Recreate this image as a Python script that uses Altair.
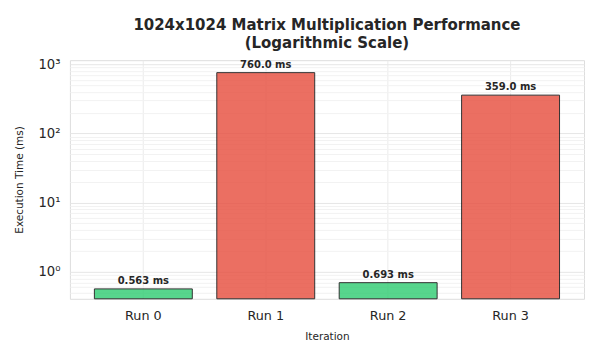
import altair as alt
import pandas as pd

runs = ["Run 0", "Run 1", "Run 2", "Run 3"]
times_ms = [0.563, 760.0, 0.693, 359.0]
bar_colors = ["#2ecc71", "#e74c3c", "#2ecc71", "#e74c3c"]
labels = ["0.563 ms", "760.0 ms", "0.693 ms", "359.0 ms"]

y_ticks = [0.5, 0.6, 0.7, 0.8, 0.9, 1, 2, 3, 4, 5, 6, 7, 8, 9,
           10, 20, 30, 40, 50, 60, 70, 80, 90,
           100, 200, 300, 400, 500, 600, 700, 800, 900, 1000]
y_domain = [0.405, 1150]

df = pd.DataFrame({"run": runs, "time": times_ms, "color": bar_colors, "label": labels,
                   "base": [y_domain[0]] * len(runs)})

FONT = "DejaVu Sans"
W, H = 515, 239

major_test = "abs(log(datum.value)/LN10 - round(log(datum.value)/LN10)) < 0.000001"

base = alt.Chart(df)

x_enc = alt.X("run:N", title="Iteration", sort=runs,
              scale=alt.Scale(paddingInner=0.2, paddingOuter=0.2),
              axis=alt.Axis(labelAngle=0, ticks=False, labelPadding=11, grid=True,
                            bandPosition=0.5, gridColor="#ebebeb", domain=False,
                            labelFontSize=12.8, titleFontSize=10.5, titlePadding=9,
                            labelColor="#262626", titleColor="#262626", titleFontWeight="normal"))

y_enc = alt.Y("time:Q", title="Execution Time (ms)",
              scale=alt.Scale(type="log", domain=y_domain, nice=False),
              axis=alt.Axis(values=y_ticks, ticks=False, labelPadding=10, domain=False,
                            labelExpr="abs(log(datum.value)/LN10 - round(log(datum.value)/LN10)) < 0.000001 ? '10' + ['⁰','¹','²','³'][round(log(datum.value)/LN10)] : ''",
                            gridColor={"condition": {"test": major_test, "value": "#e6e6e6"}, "value": "#f2f2f2"},
                            labelFontSize=13.2, titleFontSize=10.5, titlePadding=13,
                            labelColor="#262626", titleColor="#262626", titleFontWeight="normal"))

bars = base.mark_bar(stroke="black", strokeWidth=1, opacity=0.8).encode(
    x=x_enc,
    y=y_enc,
    y2="base:Q",
    color=alt.Color("color:N", scale=None),
)

text = base.mark_text(fontWeight="bold", fontSize=10, baseline="bottom", dy=-3, color="#262626", font=FONT).encode(
    x=alt.X("run:N", sort=runs),
    y=alt.Y("time:Q"),
    text="label:N",
)

chart = alt.layer(bars, text).properties(
    width=W, height=H,
    title=alt.TitleParams(["1024x1024 Matrix Multiplication Performance", "(Logarithmic Scale)"],
                          fontSize=15, fontWeight="bold", color="#262626", font=FONT,
                          anchor="middle", offset=6, lineHeight=18),
    autosize=alt.AutoSizeParams(type="none"),
    padding={"left": 62, "top": 52, "right": 8, "bottom": 44},
).configure_view(stroke="#cccccc", strokeWidth=1.25).configure(font=FONT)

chart.save("out.html", embed_options={"renderer": "svg", "actions": False})
